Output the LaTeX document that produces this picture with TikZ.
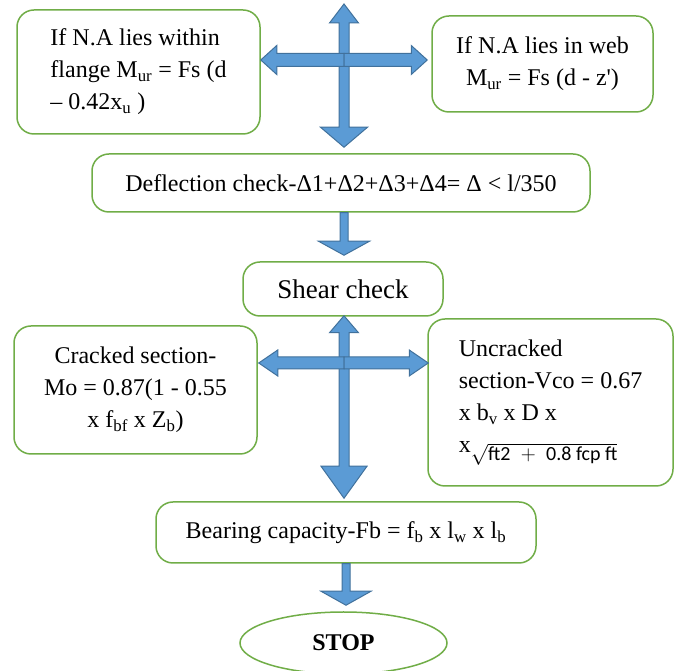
\documentclass[tikz,border=0pt]{standalone}
\usepackage{fontspec}
\setmainfont{Liberation Serif}
\newfontfamily\calfont{Carlito}
\usetikzlibrary{calc,shapes.geometric}

\definecolor{boxgreen}{HTML}{70AD47}
\definecolor{arrowfill}{HTML}{5B9BD5}
\definecolor{arrowline}{HTML}{41719C}

\tikzset{
  flowbox/.style={draw=boxgreen, line width=1.5pt, rounded corners=17pt, fill=white,
    font=\fontsize{24}{32}\selectfont, inner sep=0pt},
  stopbox/.style={draw=boxgreen, ellipse, line width=1.5pt,
    font=\fontsize{24}{28}\selectfont\bfseries, inner sep=0pt},
  blockarrow/.style={fill=arrowfill, draw=arrowline, line width=1pt, line join=miter},
}

% block arrows: from, to, shaft half width, head half width, head length
\newcommand{\vblock}[5]{%
  \draw[blockarrow] let \p1=#1, \p2=#2, \n1={sign(\y2-\y1)} in
    ({\x1-#3pt},\y1) -- ({\x1-#3pt},{\y2-(\n1)*#5pt}) -- ({\x1-#4pt},{\y2-(\n1)*#5pt})
    -- (\x1,\y2) -- ({\x1+#4pt},{\y2-(\n1)*#5pt}) -- ({\x1+#3pt},{\y2-(\n1)*#5pt})
    -- ({\x1+#3pt},\y1) -- cycle;}
\newcommand{\hblock}[5]{%
  \draw[blockarrow] let \p1=#1, \p2=#2, \n1={sign(\x2-\x1)} in
    (\x1,{\y1-#3pt}) -- ({\x2-(\n1)*#5pt},{\y1-#3pt}) -- ({\x2-(\n1)*#5pt},{\y1-#4pt})
    -- (\x2,\y1) -- ({\x2-(\n1)*#5pt},{\y1+#4pt}) -- ({\x2-(\n1)*#5pt},{\y1+#3pt})
    -- (\x1,{\y1+#3pt}) -- cycle;}

\begin{document}
\begin{tikzpicture}[x=1pt,y=1pt]
\useasboundingbox (0,0) rectangle (677,671);

% boxes
\node[flowbox, minimum width=243pt, minimum height=124pt, align=left] (flange) at (138.5,599)
  {If N.A lies within\\flange M\textsubscript{ur} = Fs (d\\– 0.42x\textsubscript{u} )};
\node[flowbox, minimum width=221pt, minimum height=96pt, align=center] (web) at (542.5,607)
  {If N.A lies in web\\M\textsubscript{ur} = Fs (d - z\textquotesingle)};
\node[flowbox, minimum width=498pt, minimum height=58pt] (defl) at (341,488)
  {Deflection check-Δ1+Δ2+Δ3+Δ4= Δ < l/350};
\node[flowbox, minimum width=200pt, minimum height=54pt, font=\fontsize{27}{32}\selectfont]
  (shear) at (343,382) {Shear check};
\node[flowbox, minimum width=243pt, minimum height=128pt, align=center] (cracked) at (135.5,281)
  {Cracked section-\\Mo = 0.87(1 - 0.55\\x f\textsubscript{bf} x Z\textsubscript{b})};
\node[flowbox, minimum width=245pt, minimum height=167pt, align=left] (uncracked) at (550.5,268.5)
  {Uncracked\\section-Vco = 0.67\\x b\textsubscript{v} x D x\\x\raisebox{-8pt}{\fontsize{20}{22}\selectfont
   $\sqrt{\mbox{\calfont ft2}\;+\;\mbox{\calfont 0.8 fcp ft}}$}};
\node[flowbox, minimum width=380pt, minimum height=61pt] (bearing) at (346,138.5)
  {Bearing capacity-Fb = f\textsubscript{b} x l\textsubscript{w} x l\textsubscript{b}};
\node[stopbox, minimum width=207pt, minimum height=62pt] (stop) at (343.5,28) {STOP};

% top cross
\coordinate (xa) at (344,611);
\coordinate (xatop) at (344,667);
\vblock{(xa)}{($(defl.north -| xa)+(0,6)$)}{5}{23.5}{20}
\vblock{(xa)}{(xatop)}{5}{14.5}{19}
\hblock{(xa)}{(flange.east)}{6.5}{14.5}{16}
\hblock{(xa)}{($(web.west)+(-4,0)$)}{6.5}{14.5}{16}

% down to shear check
\vblock{(defl.south -| xa)}{($(shear.north -| xa)+(0,6)$)}{4}{25.5}{14}

% lower cross
\coordinate (xb) at (344,308);
\vblock{(xb)}{($(bearing.north -| xb)+(0,3)$)}{5}{23}{32}
\vblock{(xb)}{($(shear.south -| xb)+(0,1)$)}{5}{14.5}{17}
\hblock{(xb)}{($(cracked.east)+(1,0)$)}{6}{13}{19}
\hblock{(xb)}{($(uncracked.west)+(1,0)$)}{6}{13}{19}

% down to stop
\vblock{(bearing.south)}{($(stop.north -| bearing.south)+(0,6)$)}{4}{25}{14}
\end{tikzpicture}
\end{document}
